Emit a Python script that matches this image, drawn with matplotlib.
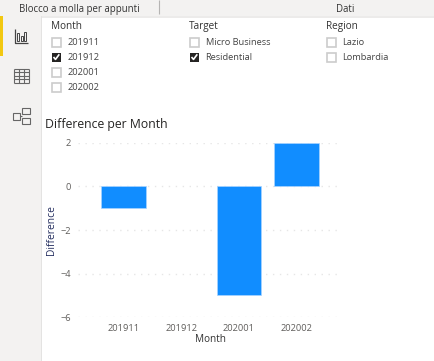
import matplotlib
matplotlib.use("Agg")
import matplotlib.pyplot as plt
from matplotlib.patches import Rectangle

months = ["201911", "201912", "202001", "202002"]
differences = [-1, float("nan"), -5, 2]  # 201912 has no bar
y_ticks = [2, 0, -2, -4, -6]

month_options = ["201911", "201912", "202001", "202002"]
month_checked = [False, True, False, False]
target_options = ["Micro Business", "Residential"]
target_checked = [False, True]
region_options = ["Lazio", "Lombardia"]
region_checked = [False, False]

W, H = 434, 361
TEXT = "#444444"
DARK = "#333333"
plt.rcParams["font.family"] = ["Open Sans", "DejaVu Sans"]

fig = plt.figure(figsize=(W / 100, H / 100), dpi=100, facecolor="white")

# overlay in pixel coordinates for the Power BI window around the chart
ui = fig.add_axes([0, 0, 1, 1])
ui.set_xlim(0, W)
ui.set_ylim(H, 0)
ui.axis("off")


def box(x, y, w, h, **kw):
    kw.setdefault("linewidth", 0)
    ui.add_patch(Rectangle((x, y), w, h, **kw))


def line(xs, ys, color="#666666", lw=0.8):
    ui.plot(xs, ys, color=color, lw=lw, solid_capstyle="butt")


# top ribbon and side bar
box(0, 0, W, 16, facecolor="#f3f2f1")
box(0, 16, W, 1.5, facecolor="#ecebea")
box(0, 16, 41, H - 16, facecolor="#f3f2f1")
box(41, 16, 1, H - 16, facecolor="#e4e3e2")
box(0, 16, 3, 40, facecolor="#f2c811")
line([158.5, 158.5], [0, 14], "#b5b4b3")
ui.text(79, 9.5, "Blocco a molla per appunti", fontsize=6.9, color=DARK, ha="center", va="center")
ui.text(345, 9.5, "Dati", fontsize=6.9, color=DARK, ha="center", va="center")

# report view icon
line([14.5, 14.5, 27.5], [29, 42.5, 42.5], "#444444", 0.9)
for bx, bh in [(16.5, 8), (20.5, 5), (24, 9.5)]:
    ui.add_patch(Rectangle((bx, 41 - bh), 2.3, bh, facecolor="none", edgecolor="#444444", lw=0.7))

# data view icon
for gx in [13.5, 18.5, 23.5, 28.5]:
    line([gx, gx], [68.5, 82.5])
for gy in [68.5, 72, 75.5, 79, 82.5]:
    line([13.5, 28.5], [gy, gy])

# model view icon
for bx, by, bw, bh in [(12.5, 112.5, 7.5, 7), (21.5, 107.5, 8, 6.5), (21.5, 117.5, 8, 6.5)]:
    ui.add_patch(Rectangle((bx, by), bw, bh, facecolor="none", edgecolor="#666666", lw=0.8))
line([20, 21.5], [116, 116])


def slicer(x, header, options, checked):
    ui.text(x, 26.5, header, fontsize=7.2, color=DARK, va="center", fontweight="medium")
    for i, (opt, on) in enumerate(zip(options, checked)):
        y = 42 + i * 15
        if on:
            box(x + 0.5, y - 4.5, 9.5, 9.5, facecolor="#252423")
            line([x + 2.5, x + 4.5, x + 8.3], [y, y + 2.4, y - 2.7], "white", 1.2)
        else:
            ui.add_patch(Rectangle((x + 1, y - 4), 8.5, 8.5, facecolor="white", edgecolor="#cccccc", lw=1.2))
        ui.text(x + 16.5, y + 0.5, opt, fontsize=6.7, color=TEXT, va="center")


slicer(51, "Month", month_options, month_checked)
slicer(189, "Target", target_options, target_checked)
slicer(326, "Region", region_options, region_checked)

ui.text(45, 124.5, "Difference per Month", fontsize=8.8, color="#252423", va="center")

# the chart itself
left, right, top, bottom = 78, 341, 142.7, 317.3
ax = fig.add_axes([left / W, 1 - bottom / H, (right - left) / W, (bottom - top) / H])
ax.patch.set_alpha(0)
pos = list(range(len(months)))
ax.bar(pos, differences, width=0.77, color="#118dff", edgecolor="#a9d4ff", linewidth=0.5, zorder=3)
ax.set_xlim(-0.79, 3.77)
ax.set_ylim(-6, 2)
ax.set_yticks(y_ticks)
ax.set_xticks(pos)
ax.set_xticklabels(months)
ax.grid(True, axis="y", color="#e6e6e6", linestyle=(0, (1, 4)), linewidth=1, zorder=0)
ax.tick_params(length=0, labelsize=6.7, labelcolor="#605e5c")
ax.tick_params(axis="x", pad=4.5)
ax.tick_params(axis="y", pad=5)
for s in ax.spines.values():
    s.set_visible(False)

ui.text(211, 340, "Month", fontsize=7.2, color=DARK, ha="center", va="center")
ui.text(51.5, 230, "Difference", fontsize=7.4, color="#252f60", ha="center", va="center", rotation=90)

fig.savefig("out.png", dpi=100)
